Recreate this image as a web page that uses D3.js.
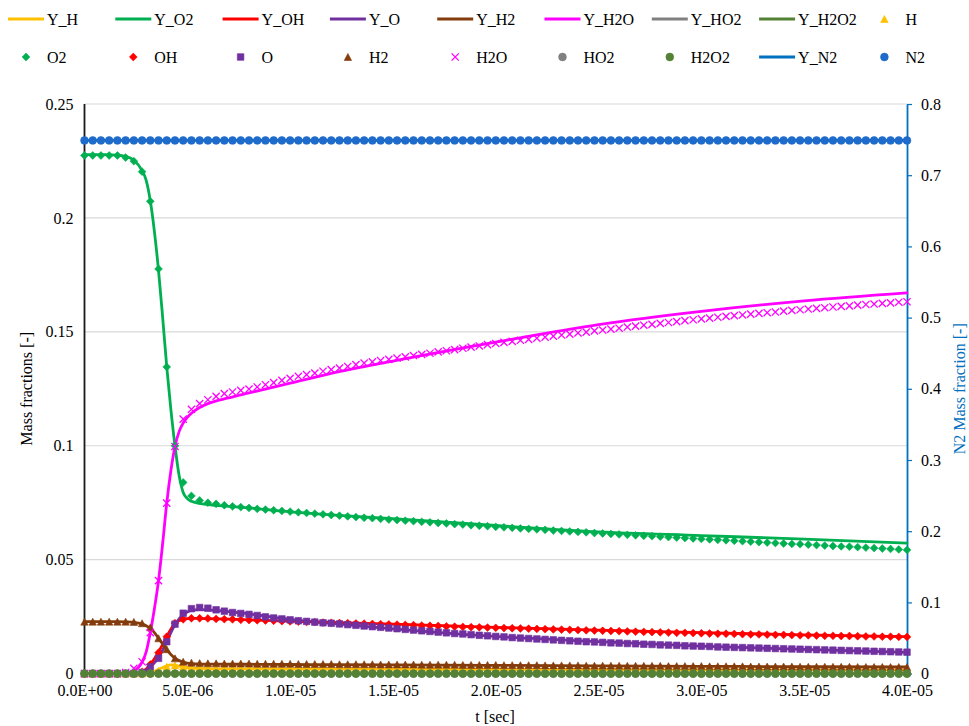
<!DOCTYPE html>
<html>
<head>
<meta charset="utf-8">
<script src="https://cdn.jsdelivr.net/npm/d3@7"></script>
<style>
  html, body { margin: 0; padding: 0; background: #fff; }
  svg, svg text { font-family: "Liberation Serif", Tinos, "Times New Roman", Times, "DejaVu Serif", "Noto Serif", serif; }
</style>
</head>
<body>
<svg id="chart" width="969" height="726"></svg>
<script>
// ---- Sampled reference solution (markers), every 0.4 µs from 0 to 40 µs ----
const sampleTimesUs = d3.range(101).map(i => i * 0.4);

const O2_pts = [
  0.2274,0.2274,0.2274,0.2274,0.2274,0.2265,0.2249,0.2203,0.2073,0.1776,
  0.1346,0.1000,0.0839,0.0780,0.0760,0.0750,0.0745,0.0739,0.0734,0.0731,
  0.0727,0.0723,0.0720,0.0717,0.0714,0.0711,0.0708,0.0705,0.0702,0.0699,
  0.0696,0.0693,0.0690,0.0687,0.0684,0.0682,0.0679,0.0676,0.0674,0.0671,
  0.0669,0.0666,0.0664,0.0661,0.0659,0.0656,0.0654,0.0651,0.0649,0.0647,
  0.0644,0.0642,0.0640,0.0637,0.0635,0.0633,0.0631,0.0628,0.0626,0.0624,
  0.0622,0.0620,0.0617,0.0615,0.0613,0.0611,0.0609,0.0607,0.0605,0.0603,
  0.0601,0.0599,0.0597,0.0595,0.0593,0.0591,0.0589,0.0587,0.0585,0.0583,
  0.0581,0.0579,0.0577,0.0575,0.0573,0.0571,0.0569,0.0568,0.0566,0.0564,
  0.0562,0.0560,0.0558,0.0557,0.0555,0.0553,0.0551,0.0549,0.0547,0.0545,
  0.0543];

const H2O_pts = [
  0,0,0,0,0,0.0005,0.0023,0.0052,0.0180,0.0408,
  0.0748,0.0997,0.1117,0.1160,0.1185,0.1202,0.1217,0.1229,0.1236,0.1243,
  0.1249,0.1258,0.1268,0.1277,0.1287,0.1296,0.1305,0.1312,0.1319,0.1327,
  0.1334,0.1341,0.1348,0.1356,0.1363,0.1368,0.1374,0.1379,0.1385,0.1390,
  0.1396,0.1401,0.1406,0.1412,0.1417,0.1422,0.1428,0.1433,0.1438,0.1444,
  0.1449,0.1454,0.1458,0.1463,0.1467,0.1472,0.1477,0.1481,0.1486,0.1490,
  0.1495,0.1499,0.1504,0.1508,0.1512,0.1516,0.1521,0.1525,0.1529,0.1533,
  0.1537,0.1541,0.1545,0.1549,0.1553,0.1557,0.1560,0.1564,0.1568,0.1571,
  0.1574,0.1578,0.1581,0.1584,0.1587,0.1591,0.1594,0.1597,0.1600,0.1603,
  0.1606,0.1609,0.1612,0.1614,0.1617,0.1620,0.1622,0.1625,0.1627,0.1630,
  0.1632];

const OH_pts = [
  0,0,0,0,0,0,0,0.0008,0.0040,0.0092,
  0.0162,0.0221,0.0238,0.0243,0.0243,0.0242,0.0240,0.0239,0.0238,0.0236,
  0.0235,0.0234,0.0233,0.0232,0.0230,0.0229,0.0228,0.0227,0.0226,0.0224,
  0.0223,0.0222,0.0221,0.0220,0.0219,0.0218,0.0217,0.0216,0.0215,0.0214,
  0.0213,0.0211,0.0210,0.0209,0.0207,0.0206,0.0205,0.0204,0.0203,0.0202,
  0.0201,0.0200,0.0199,0.0198,0.0197,0.0196,0.0195,0.0194,0.0193,0.0192,
  0.0191,0.0190,0.0189,0.0188,0.0187,0.0186,0.0185,0.0184,0.0183,0.0182,
  0.0181,0.0180,0.0179,0.0179,0.0178,0.0177,0.0176,0.0175,0.0175,0.0174,
  0.0173,0.0172,0.0172,0.0171,0.0170,0.0170,0.0169,0.0168,0.0168,0.0167,
  0.0166,0.0166,0.0165,0.0165,0.0164,0.0163,0.0163,0.0162,0.0162,0.0161,
  0.0161];

const O_pts = [
  0,0,0,0,0,0,0,0.0005,0.0030,0.0067,
  0.0140,0.0217,0.0265,0.0285,0.0290,0.0287,0.0280,0.0274,0.0268,0.0264,
  0.0260,0.0255,0.0249,0.0244,0.0240,0.0236,0.0232,0.0229,0.0226,0.0223,
  0.0221,0.0218,0.0215,0.0212,0.0209,0.0206,0.0203,0.0200,0.0197,0.0194,
  0.0191,0.0188,0.0185,0.0182,0.0179,0.0176,0.0174,0.0171,0.0168,0.0166,
  0.0163,0.0161,0.0158,0.0156,0.0154,0.0152,0.0150,0.0148,0.0146,0.0144,
  0.0142,0.0140,0.0139,0.0137,0.0135,0.0134,0.0132,0.0131,0.0129,0.0128,
  0.0126,0.0125,0.0124,0.0122,0.0121,0.0120,0.0119,0.0117,0.0116,0.0115,
  0.0114,0.0113,0.0112,0.0111,0.0110,0.0109,0.0108,0.0107,0.0106,0.0105,
  0.0104,0.0103,0.0102,0.0101,0.0100,0.0099,0.0098,0.0097,0.0096,0.0095,
  0.0094];

const H2_pts = [
  0.0228,0.0228,0.0228,0.0228,0.0228,0.0228,0.0227,0.0221,0.0203,0.0155,
  0.0107,0.0067,0.0052,0.0048,0.0046,0.0045,0.0045,0.0044,0.0044,0.0044,
  0.0044,0.0043,0.0043,0.0043,0.0043,0.0043,0.0042,0.0042,0.0042,0.0042,
  0.0042,0.0041,0.0041,0.0041,0.0041,0.0041,0.0040,0.0040,0.0040,0.0040,
  0.0040,0.0039,0.0039,0.0039,0.0039,0.0039,0.0038,0.0038,0.0038,0.0038,
  0.0038,0.0037,0.0037,0.0037,0.0037,0.0037,0.0036,0.0036,0.0036,0.0036,
  0.0036,0.0035,0.0035,0.0035,0.0035,0.0035,0.0034,0.0034,0.0034,0.0034,
  0.0034,0.0033,0.0033,0.0033,0.0033,0.0033,0.0032,0.0032,0.0032,0.0032,
  0.0032,0.0031,0.0031,0.0031,0.0031,0.0031,0.0031,0.0030,0.0030,0.0030,
  0.0030,0.0030,0.0030,0.0030,0.0029,0.0029,0.0029,0.0029,0.0029,0.0029,
  0.0029];

const H_pts = [
  0,0,0,0,0,0,0,0,0.0003,0.0012,
  0.0030,0.0036,0.0031,0.0027,0.0025,0.0024,0.0024,0.0023,0.0023,0.0023,
  0.0023,0.0023,0.0023,0.0023,0.0022,0.0022,0.0022,0.0022,0.0022,0.0022,
  0.0022,0.0022,0.0022,0.0021,0.0021,0.0021,0.0021,0.0021,0.0021,0.0021,
  0.0021,0.0021,0.0021,0.0021,0.0020,0.0020,0.0020,0.0020,0.0020,0.0020,
  0.0020,0.0020,0.0020,0.0020,0.0020,0.0019,0.0019,0.0019,0.0019,0.0019,
  0.0019,0.0019,0.0019,0.0019,0.0019,0.0019,0.0019,0.0019,0.0018,0.0018,
  0.0018,0.0018,0.0018,0.0018,0.0018,0.0018,0.0018,0.0018,0.0018,0.0018,
  0.0018,0.0018,0.0018,0.0018,0.0018,0.0017,0.0017,0.0017,0.0017,0.0017,
  0.0017,0.0017,0.0017,0.0017,0.0017,0.0017,0.0017,0.0017,0.0017,0.0017,
  0.0017];

const HO2_pts = [
  0,0,0,0,0,0,0,0,0,0, 0,0,0,0,0,0,0,0,0,0, 0,0,0,0,0,0,0,0,0,0,
  0,0,0,0,0,0,0,0,0,0, 0,0,0,0,0,0,0,0,0,0, 0,0,0,0,0,0,0,0,0,0,
  0,0,0,0,0,0,0,0,0,0, 0,0,0,0,0,0,0,0,0,0, 0,0,0,0,0,0,0,0,0,0,
  0,0,0,0,0,0,0,0,0,0, 0];

const H2O2_pts = [
  0,0,0,0,0,0,0,0,0,0, 0,0,0,0,0,0,0,0,0,0, 0,0,0,0,0,0,0,0,0,0,
  0,0,0,0,0,0,0,0,0,0, 0,0,0,0,0,0,0,0,0,0, 0,0,0,0,0,0,0,0,0,0,
  0,0,0,0,0,0,0,0,0,0, 0,0,0,0,0,0,0,0,0,0, 0,0,0,0,0,0,0,0,0,0,
  0,0,0,0,0,0,0,0,0,0, 0];

const N2_pts = [
  0.7488,0.7488,0.7488,0.7488,0.7488,0.7488,0.7488,0.7488,0.7488,0.7488,
  0.7488,0.7488,0.7488,0.7488,0.7488,0.7488,0.7488,0.7488,0.7488,0.7488,
  0.7488,0.7488,0.7488,0.7488,0.7488,0.7488,0.7488,0.7488,0.7488,0.7488,
  0.7488,0.7488,0.7488,0.7488,0.7488,0.7488,0.7488,0.7488,0.7488,0.7488,
  0.7488,0.7488,0.7488,0.7488,0.7488,0.7488,0.7488,0.7488,0.7488,0.7488,
  0.7488,0.7488,0.7488,0.7488,0.7488,0.7488,0.7488,0.7488,0.7488,0.7488,
  0.7488,0.7488,0.7488,0.7488,0.7488,0.7488,0.7488,0.7488,0.7488,0.7488,
  0.7488,0.7488,0.7488,0.7488,0.7488,0.7488,0.7488,0.7488,0.7488,0.7488,
  0.7488,0.7488,0.7488,0.7488,0.7488,0.7488,0.7488,0.7488,0.7488,0.7488,
  0.7488,0.7488,0.7488,0.7488,0.7488,0.7488,0.7488,0.7488,0.7488,0.7488,
  0.7488];

// ---- Model solution (lines) ----
const lineTimesUs = [0, 1.0, 1.6, 2.0, 2.4, 2.8, 3.0, 3.2, 3.4, 3.6, 3.8, 4.0, 4.2, 4.4, 4.6,
                     4.8, 5.0, 5.2, 5.6, 6.0, 7, 8, 10, 12, 15, 20, 25, 30, 35, 40];

const Y_H = [0,0,0,0,0,0,0.0001,0.0004,0.0010,0.0018,0.0027,0.0034,0.0038,0.0037,0.0033,
             0.0029,0.0026,0.0024,0.0023,0.0022,0.0021,0.0021,0.0020,0.0020,0.0019,0.0018,0.0017,0.0016,0.0016,0.0015];
const Y_O2 = [0.2278,0.2278,0.2276,0.2270,0.2253,0.2208,0.2165,0.2075,0.1940,0.1770,0.1565,0.1346,0.1160,0.1000,0.0870,
              0.0795,0.0768,0.0756,0.0747,0.0742,0.0734,0.0727,0.0710,0.0697,0.0680,0.0650,0.0622,0.0606,0.0590,0.0573];
const Y_OH = [0,0,0,0,0.0001,0.0006,0.0020,0.0042,0.0065,0.0095,0.0128,0.0163,0.0195,0.0220,0.0232,
              0.0238,0.0241,0.0242,0.0242,0.0241,0.0239,0.0236,0.0230,0.0225,0.0217,0.0203,0.0191,0.0180,0.0170,0.0162];
const Y_O = [0,0,0,0,0,0.0003,0.0012,0.0030,0.0048,0.0070,0.0103,0.0140,0.0180,0.0214,0.0240,
             0.0258,0.0270,0.0277,0.0281,0.0280,0.0272,0.0262,0.0238,0.0220,0.0196,0.0163,0.0140,0.0121,0.0106,0.0093];
const Y_H2 = [0.0228,0.0228,0.0228,0.0227,0.0225,0.0218,0.0210,0.0198,0.0180,0.0155,0.0130,0.0105,0.0084,0.0068,0.0057,
              0.0050,0.0046,0.0044,0.0042,0.0042,0.0041,0.0041,0.0040,0.0039,0.0038,0.0036,0.0034,0.0032,0.0030,0.0029];
const Y_H2O = [0,0,0.0001,0.0003,0.0012,0.0050,0.0095,0.0180,0.0285,0.0408,0.0570,0.0748,0.0890,0.0997,0.1062,
               0.1100,0.1125,0.1143,0.1168,0.1185,0.1210,0.1232,0.1275,0.1318,0.1372,0.1455,0.1532,0.1590,0.1636,0.1671];
const Y_HO2 = [0,0,0,0,0,0,0,0,0,0,0,0,0,0,0,0,0,0,0,0,0,0,0,0,0,0,0,0,0,0];
const Y_H2O2 = [0,0,0,0,0,0,0,0,0,0,0,0,0,0,0,0,0,0,0,0,0,0,0,0,0,0,0,0,0,0];
const Y_N2 = [0.7488,0.7488,0.7488,0.7488,0.7488,0.7488,0.7488,0.7488,0.7488,0.7488,0.7488,0.7488,0.7488,0.7488,0.7488,
              0.7488,0.7488,0.7488,0.7488,0.7488,0.7488,0.7488,0.7488,0.7488,0.7488,0.7488,0.7488,0.7488,0.7488,0.7488];

// ---- Axis ticks ----
const xTicksUs = [0, 5, 10, 15, 20, 25, 30, 35, 40];
const yLeftTicks = [0, 0.05, 0.1, 0.15, 0.2, 0.25];
const yRightTicks = [0, 0.1, 0.2, 0.3, 0.4, 0.5, 0.6, 0.7, 0.8];

// ---- Colours ----
const C = {
  H: "#FFC000", O2: "#00B050", OH: "#FF0000", O: "#7030A0", H2: "#843C0C",
  H2O: "#FF00FF", HO2: "#808080", H2O2: "#548235", N2line: "#0070C0", N2mark: "#1F6BCB"
};

const lineSeries = [
  { name: "Y_H", values: Y_H, color: C.H },
  { name: "Y_O2", values: Y_O2, color: C.O2 },
  { name: "Y_OH", values: Y_OH, color: C.OH },
  { name: "Y_O", values: Y_O, color: C.O },
  { name: "Y_H2", values: Y_H2, color: C.H2 },
  { name: "Y_H2O", values: Y_H2O, color: C.H2O },
  { name: "Y_HO2", values: Y_HO2, color: C.HO2 },
  { name: "Y_H2O2", values: Y_H2O2, color: C.H2O2 }
];
const markerSeries = [
  { name: "H", values: H_pts, color: C.H, shape: "triangle" },
  { name: "O2", values: O2_pts, color: C.O2, shape: "diamond" },
  { name: "OH", values: OH_pts, color: C.OH, shape: "diamond" },
  { name: "O", values: O_pts, color: C.O, shape: "square" },
  { name: "H2", values: H2_pts, color: C.H2, shape: "triangle" },
  { name: "H2O", values: H2O_pts, color: C.H2O, shape: "cross" },
  { name: "HO2", values: HO2_pts, color: C.HO2, shape: "circle" },
  { name: "H2O2", values: H2O2_pts, color: C.H2O2, shape: "circle" }
];

// ---- Layout ----
const SERIF = "Liberation Serif, Tinos, Times New Roman, Times, DejaVu Serif, Noto Serif, serif";
const svg = d3.select("#chart");
const plot = { left: 84.5, right: 907, top: 104, bottom: 673.6 };
const FONT = 16;

const x = d3.scaleLinear().domain([0, 40]).range([plot.left, plot.right]);
const yL = d3.scaleLinear().domain([0, 0.25]).range([plot.bottom, plot.top]);
const yR = d3.scaleLinear().domain([0, 0.8]).range([plot.bottom, plot.top]);

// Marker path builders (centered at origin)
function markerPath(shape) {
  switch (shape) {
    case "diamond": { const r = 3.9; return `M0,${-r}L${r},0L0,${r}L${-r},0Z`; }
    case "square": { const h = 3.3; return `M${-h},${-h}H${h}V${h}H${-h}Z`; }
    case "triangle": { const w = 3.7, h = 3.5; return `M0,${-h}L${w},${h}L${-w},${h}Z`; }
    case "circle": { const r = 3.9; return `M${r},0A${r},${r} 0 1,1 ${-r},0A${r},${r} 0 1,1 ${r},0Z`; }
    case "cross": { const r = 3.6; return `M${-r},${-r}L${r},${r}M${-r},${r}L${r},${-r}`; }
  }
}
function drawMarker(sel, shape, color) {
  const p = sel.append("path").attr("d", markerPath(shape));
  if (shape === "cross") p.attr("fill", "none").attr("stroke", color).attr("stroke-width", 1.3);
  else p.attr("fill", color).attr("stroke", color).attr("stroke-width", 0.6);
  return p;
}
function styleText(sel) {
  sel.attr("font-size", FONT).attr("font-family", SERIF).attr("fill", "#000");
}

// Scientific tick labels like 5.0E-06
function sciLabel(us) {
  const v = us * 1e-6;
  if (v === 0) return "0.0E+00";
  const e = Math.floor(Math.log10(v) + 1e-9);
  const m = v / Math.pow(10, e);
  const sign = e < 0 ? "-" : "+";
  return m.toFixed(1) + "E" + sign + String(Math.abs(e)).padStart(2, "0");
}

// Gridlines
svg.append("g").selectAll("line").data(yLeftTicks).join("line")
  .attr("x1", plot.left).attr("x2", plot.right)
  .attr("y1", d => yL(d)).attr("y2", d => yL(d))
  .attr("stroke", "#d9d9d9").attr("stroke-width", 1.2);

// Left axis
const gL = svg.append("g").attr("transform", `translate(${plot.left},0)`)
  .call(d3.axisLeft(yL).tickValues(yLeftTicks).tickFormat(d3.format("~g")).tickSize(0).tickPadding(11));
gL.attr("font-family", SERIF).attr("font-size", FONT);
gL.select(".domain").remove();
gL.selectAll("text").call(styleText);
svg.append("line").attr("x1", plot.left).attr("x2", plot.left)
  .attr("y1", plot.top).attr("y2", plot.bottom).attr("stroke", "#1a1a1a").attr("stroke-width", 1.8);

// Right axis
const gR = svg.append("g").attr("transform", `translate(${plot.right},0)`)
  .call(d3.axisRight(yR).tickValues(yRightTicks).tickFormat(d3.format("~g")).tickSize(5).tickPadding(9).tickSizeOuter(0));
gR.attr("font-family", SERIF).attr("font-size", FONT);
gR.select(".domain").attr("stroke", C.N2line).attr("stroke-width", 1.8);
gR.selectAll(".tick line").attr("stroke", C.N2line).attr("stroke-width", 1.2);
gR.selectAll("text").call(styleText);

// Bottom axis (labels only)
const gB = svg.append("g").attr("transform", `translate(0,${plot.bottom})`)
  .call(d3.axisBottom(x).tickValues(xTicksUs).tickFormat(sciLabel).tickSize(0).tickPadding(11));
gB.attr("font-family", SERIF).attr("font-size", FONT);
gB.select(".domain").remove();
gB.selectAll("text").call(styleText);

// Axis titles
svg.append("text").attr("x", 495).attr("y", 722).attr("text-anchor", "middle")
  .call(styleText).text("t [sec]");
svg.append("text").attr("transform", `translate(32,${(plot.top + plot.bottom) / 2}) rotate(-90)`)
  .attr("text-anchor", "middle").call(styleText).text("Mass fractions [-]");
svg.append("text").attr("transform", `translate(965,${(plot.top + plot.bottom) / 2}) rotate(-90)`)
  .attr("text-anchor", "middle").call(styleText).attr("fill", C.N2line).text("N2 Mass fraction [-]");

// Model lines (primary axis)
const lineGen = scale => d3.line()
  .x((d, i) => x(lineTimesUs[i]))
  .y(d => scale(d))
  .curve(d3.curveMonotoneX);

const gLines = svg.append("g");
lineSeries.forEach(s => {
  gLines.append("path").datum(s.values)
    .attr("d", lineGen(yL))
    .attr("fill", "none").attr("stroke", s.color).attr("stroke-width", 2.8)
    .attr("stroke-linejoin", "round").attr("stroke-linecap", "round");
});

// Reference markers (primary axis)
markerSeries.forEach(s => {
  const g = svg.append("g");
  s.values.forEach((v, i) => {
    const m = g.append("g").attr("transform", `translate(${x(sampleTimesUs[i])},${yL(v)})`);
    drawMarker(m, s.shape, s.color);
  });
});

// N2 on the secondary axis
svg.append("path").datum(Y_N2).attr("d", lineGen(yR))
  .attr("fill", "none").attr("stroke", C.N2line).attr("stroke-width", 2.8);
const gN2 = svg.append("g");
N2_pts.forEach((v, i) => {
  const m = gN2.append("g").attr("transform", `translate(${x(sampleTimesUs[i])},${yR(v)})`);
  drawMarker(m, "circle", C.N2mark);
});

// Legend: two rows of nine entries
const legendRows = [
  [
    { type: "line", label: "Y_H", color: C.H },
    { type: "line", label: "Y_O2", color: C.O2 },
    { type: "line", label: "Y_OH", color: C.OH },
    { type: "line", label: "Y_O", color: C.O },
    { type: "line", label: "Y_H2", color: C.H2 },
    { type: "line", label: "Y_H2O", color: C.H2O },
    { type: "line", label: "Y_HO2", color: C.HO2 },
    { type: "line", label: "Y_H2O2", color: C.H2O2 },
    { type: "marker", label: "H", color: C.H, shape: "triangle" }
  ],
  [
    { type: "marker", label: "O2", color: C.O2, shape: "diamond" },
    { type: "marker", label: "OH", color: C.OH, shape: "diamond" },
    { type: "marker", label: "O", color: C.O, shape: "square" },
    { type: "marker", label: "H2", color: C.H2, shape: "triangle" },
    { type: "marker", label: "H2O", color: C.H2O, shape: "cross" },
    { type: "marker", label: "HO2", color: C.HO2, shape: "circle" },
    { type: "marker", label: "H2O2", color: C.H2O2, shape: "circle" },
    { type: "line", label: "Y_N2", color: C.N2line },
    { type: "marker", label: "N2", color: C.N2mark, shape: "circle" }
  ]
];
const legendRowY = [19, 57];
const colX = k => 8 + 107.3 * k;
const gLeg = svg.append("g");
legendRows.forEach((row, r) => {
  row.forEach((item, k) => {
    const cx = colX(k), cy = legendRowY[r];
    if (item.type === "line") {
      gLeg.append("line").attr("x1", cx).attr("x2", cx + 36).attr("y1", cy).attr("y2", cy)
        .attr("stroke", item.color).attr("stroke-width", 2.8);
    } else {
      const m = gLeg.append("g").attr("transform", `translate(${cx + 18},${cy})`);
      drawMarker(m, item.shape, item.color);
    }
    gLeg.append("text").attr("x", cx + 39).attr("y", cy).attr("dy", "0.35em")
      .call(styleText).text(item.label);
  });
});
</script>
</body>
</html>
